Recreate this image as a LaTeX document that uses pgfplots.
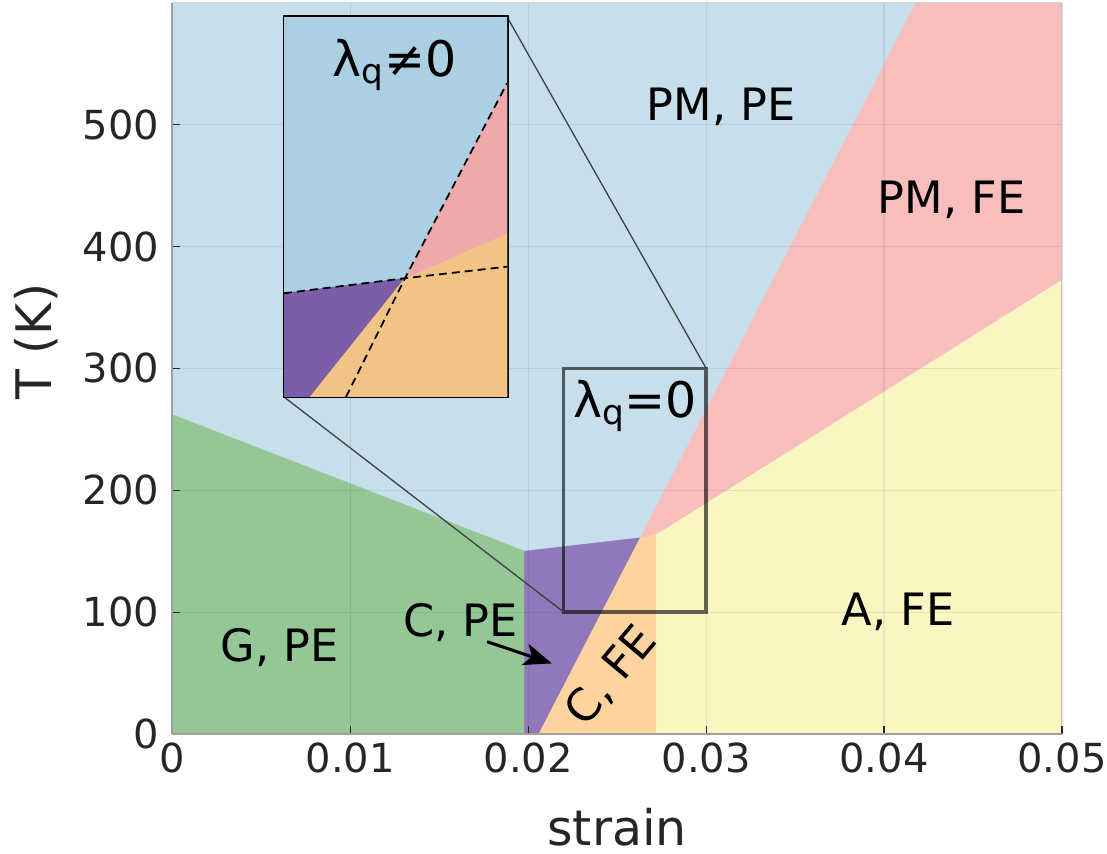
\documentclass[border=0pt]{standalone}
\usepackage{pgfplots}
\pgfplotsset{compat=1.18}
\usepackage{fontspec}
\setmainfont{DejaVu Sans}
\usetikzlibrary{arrows.meta}
\definecolor{cBlue}{HTML}{C7DFEA}
\definecolor{cGreen}{HTML}{93C795}
\definecolor{cPurple}{HTML}{9078BA}
\definecolor{cOrange}{HTML}{FDD4A0}
\definecolor{cYellow}{HTML}{FAF6C1}
\definecolor{cPink}{HTML}{F8BDBD}
\definecolor{iBlue}{HTML}{ACD0E3}
\definecolor{iPink}{HTML}{EDA9AB}
\definecolor{iOrange}{HTML}{F1C485}
\definecolor{iPurple}{HTML}{7C5DA7}
\definecolor{tickgray}{HTML}{262626}
\begin{document}
\begin{tikzpicture}
\path[use as bounding box] (-86.15pt,-60pt) rectangle (467.35pt,367pt);
\begin{axis}[
  at={(0pt,0pt)}, anchor=south west,
  scale only axis, width=444.85pt, height=365.65pt,
  xmin=0, xmax=0.05, ymin=0, ymax=600,
  xtick={0,0.01,0.02,0.03,0.04,0.05},
  xticklabels={0,0.01,0.02,0.03,0.04,0.05},
  scaled x ticks=false,
  ytick={0,100,200,300,400,500},
  yticklabels={0,100,200,300,400,500},
  axis x line*=bottom, axis y line*=left,
  axis line style={gray!75, line width=0.8pt},
  tick align=inside, major tick length=4pt,
  tick style={tickgray, line width=0.6pt},
  grid=major, grid style={black, opacity=0.07, line width=0.6pt},
  axis on top,
  ticklabel style={font=\fontsize{20}{24}\selectfont, text=tickgray},
  yticklabel style={xshift=-3pt},
  xticklabel style={yshift=-1pt},
  /pgf/number format/assume math mode=true,
  xlabel={strain}, ylabel={T (K)},
  label style={font=\fontsize{24.5}{29}\selectfont, text=tickgray},
  xlabel style={at={(axis description cs:0.5,-0.1518)}, anchor=base},
  ylabel style={at={(axis description cs:-0.1355,0.5365)}, anchor=base},
  clip=true,
]
% PM, PE
\addplot[fill=cBlue, draw=cBlue, line width=0.2pt] coordinates {(0,262) (0,600) (0.0418,600) (0.0263,161) (0.0198,150)} -- cycle;
% G, PE
\addplot[fill=cGreen, draw=cGreen, line width=0.2pt] coordinates {(0,0) (0,262) (0.0198,150) (0.0198,0)} -- cycle;
% C, PE
\addplot[fill=cPurple, draw=cPurple, line width=0.2pt] coordinates {(0.0198,0) (0.0198,150) (0.0263,161) (0.0206,0)} -- cycle;
% C, FE
\addplot[fill=cOrange, draw=cOrange, line width=0.2pt] coordinates {(0.0206,0) (0.0263,161) (0.0272,164) (0.0272,0)} -- cycle;
% A, FE
\addplot[fill=cYellow, draw=cYellow, line width=0.2pt] coordinates {(0.0272,0) (0.0272,164) (0.05,373) (0.05,0)} -- cycle;
% PM, FE
\addplot[fill=cPink, draw=cPink, line width=0.2pt] coordinates {(0.0263,161) (0.0418,600) (0.05,600) (0.05,373) (0.0272,164)} -- cycle;
% zoom box
\addplot[draw=black, draw opacity=0.6, line width=1.7pt] coordinates {(0.022,100) (0.030,100) (0.030,300) (0.022,300)} -- cycle;
% connectors
\addplot[draw=black!75, line width=0.65pt] coordinates {(0.018814,588.3) (0.030,300)};
\addplot[draw=black!75, line width=0.65pt] coordinates {(0.006279,276.5) (0.022,100)};
% arrow
\addplot[draw=black, line width=1.5pt, -{Stealth[length=14pt,width=11pt,inset=3.5pt]}] coordinates {(0.01769,75.7) (0.02133,57.9)};
% labels
\node[anchor=base, font=\fontsize{22.3}{26}\selectfont] at (axis cs:0.03084,503) {PM, PE};
\node[anchor=base, font=\fontsize{22.3}{26}\selectfont] at (axis cs:0.04379,427.2) {PM, FE};
\node[anchor=base, font=\fontsize{22.3}{26}\selectfont] at (axis cs:0.04079,89.4) {A, FE};
\node[anchor=base, font=\fontsize{22.3}{26}\selectfont] at (axis cs:0.006037,59.3) {G, PE};
\node[anchor=base, font=\fontsize{22.3}{26}\selectfont] at (axis cs:0.01621,79.8) {C, PE};
\node[rotate=50, inner sep=0pt, font=\fontsize{22.3}{26}\selectfont] at (axis cs:0.02466,47.6) {C, FE};
\node[anchor=base, font=\fontsize{24.5}{29}\selectfont] at (axis cs:0.02601,259.8) {λ\textsubscript{q}=0};
\draw[gray!35, line width=0.8pt] (rel axis cs:0,1) -- (rel axis cs:1,1) -- (rel axis cs:1,0);
\end{axis}
\begin{axis}[
  at={(55.85pt,168.5pt)}, anchor=south west,
  scale only axis, width=111.5pt, height=190pt,
  xmin=0.022, xmax=0.030, ymin=100, ymax=300,
  xtick={0.026,0.028}, ytick={200,250},
  xticklabels={}, yticklabels={},
  scaled x ticks=false, scaled y ticks=false,
  major tick length=0pt,
  grid=major, grid style={black, opacity=0.05, line width=0.6pt},
  axis line style={black, line width=1.5pt},
  clip=true,
]
\addplot[fill=iBlue, draw=iBlue, line width=0.2pt] coordinates {(0.022,100) (0.030,100) (0.030,300) (0.022,300)} -- cycle;
\addplot[fill=iPurple, draw=iPurple, line width=0.2pt] coordinates {(0.022,100) (0.022,154.6) (0.026341,162.5) (0.022933,100)} -- cycle;
\addplot[fill=iOrange, draw=iOrange, line width=0.2pt] coordinates {(0.022933,100) (0.026341,162.5) (0.030,186.2) (0.030,100)} -- cycle;
\addplot[fill=iPink, draw=iPink, line width=0.2pt] coordinates {(0.026341,162.5) (0.030,265.1) (0.030,186.2)} -- cycle;
\addplot[draw=black, line width=0.9pt, dash pattern=on 4pt off 2.5pt] coordinates {(0.022,154.6) (0.026341,162.5) (0.030,168.6)};
\addplot[draw=black, line width=0.9pt, dash pattern=on 4pt off 2.5pt] coordinates {(0.024224,100) (0.026341,162.5) (0.030,265.1)};
\node[anchor=base, font=\fontsize{24.5}{29}\selectfont] at (axis cs:0.02598,268.9) {λ\textsubscript{q}≠0};
\end{axis}
\end{tikzpicture}
\end{document}
